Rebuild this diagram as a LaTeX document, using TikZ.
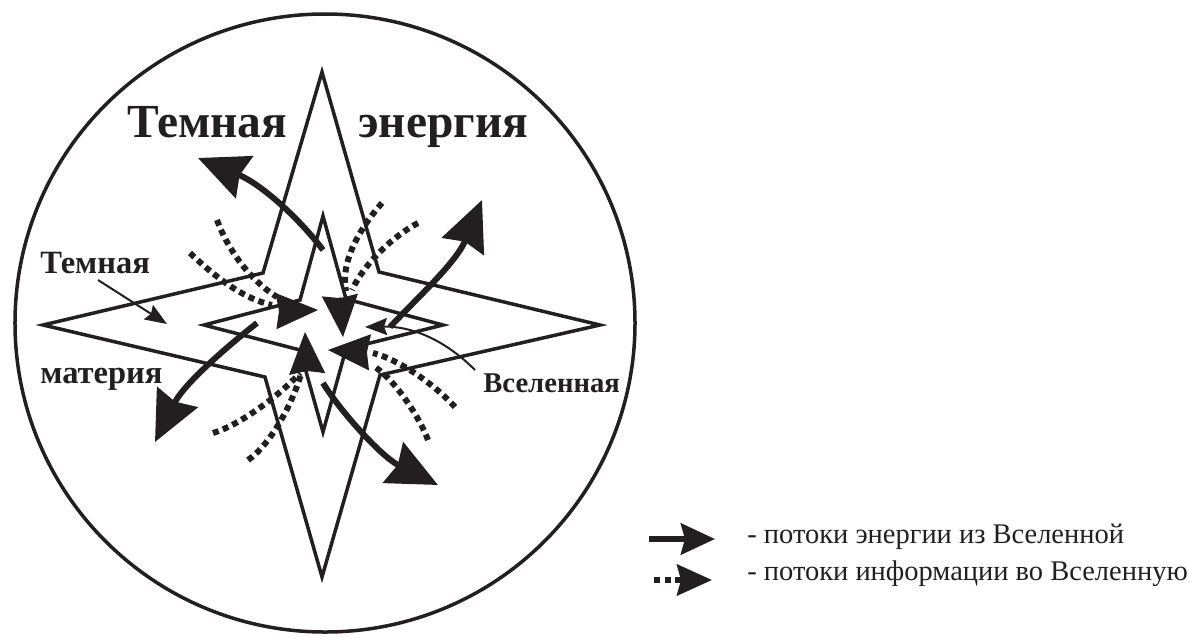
\documentclass[tikz,border=0pt]{standalone}
\usepackage{fontspec}
\setmainfont{Liberation Serif}
\usepackage{xcolor}
\usetikzlibrary{arrows.meta}
\definecolor{ink}{RGB}{35,31,32}

\begin{document}
\begin{tikzpicture}[x=0.2mm, y=-0.2mm,
  outline/.style={draw=ink, line width=0.7mm, line join=miter},
  flow/.style={draw=ink, line width=1.2mm, -{Stealth[length=10mm, width=9mm, inset=1mm]}},
  info/.style={draw=ink, line width=1.2mm, dash pattern=on 1.2mm off 0.9mm},
  inhead/.style={draw=ink, line width=0.2mm, -{Stealth[length=8.4mm, width=7.2mm, inset=0.6mm]}},
  pointer/.style={draw=ink, line width=0.4mm, -{Stealth[length=4.4mm, width=3.4mm, inset=0.6mm]}},
  bigtxt/.style={font=\bfseries\fontsize{27}{30}\selectfont, text=ink, inner sep=0pt},
  midtxt/.style={font=\bfseries\fontsize{18.5}{22}\selectfont, text=ink, inner sep=0pt},
  legtxt/.style={font=\fontsize{16.2}{19}\selectfont, text=ink, inner sep=0pt},
]
  \useasboundingbox (0,0) rectangle (1189,637);

  % circle and the two stars
  \coordinate (o) at (325,323);
  \draw[outline] (o) ellipse [x radius=62mm, y radius=61.8mm];
  \draw[outline] (322,72) -- (379,272) -- (600,325) -- (380,375) -- (322,577)
    -- (265,377) -- (43,325) -- (263,273) -- cycle;
  \draw[outline] (323,216) -- (346,299) -- (443,325) -- (346,349) -- (323,432)
    -- (300,350) -- (204,325) -- (300,300) -- cycle;

  % labels
  \node[bigtxt, anchor=base west] (dark)   at (127,137) {Темная};
  \node[bigtxt, anchor=base west] (energy) at (358,137) {энергия};
  \node[midtxt, anchor=base west] (dm1)    at (40,273)  {Темная};
  \node[midtxt, anchor=base west] (dm2)    at (40,383)  {материя};
  \node[midtxt, anchor=base west, font=\bfseries\fontsize{16.3}{20}\selectfont] (univ) at (483,392) {Вселенная};

  % pointers
  \coordinate (pd0) at (98,280);
  \coordinate (pd1) at (167,324);
  \draw[pointer] (pd0) -- (pd1);
  \coordinate (pu0) at (475,370);
  \coordinate (pu1) at (365,327);
  \draw[pointer] (pu0) .. controls (445,340) and (412,326) .. (pu1);

  % information flows into the Universe
  \coordinate (a1) at (217,220); \coordinate (a1e) at (277,297);
  \coordinate (a2) at (190,253); \coordinate (a2e) at (272,305);
  \coordinate (c1) at (382,203); \coordinate (c1e) at (346,291);
  \coordinate (c2) at (418,223); \coordinate (c2e) at (352,290);
  \coordinate (e1) at (213,433); \coordinate (e1e) at (300,373);
  \coordinate (e2) at (248,460); \coordinate (e2e) at (301,374);
  \coordinate (g1) at (455,407); \coordinate (g1e) at (373,353);
  \coordinate (g2) at (428,440); \coordinate (g2e) at (375,367);
  \draw[info] (a1) .. controls (228,250) and (250,280) .. (a1e);
  \draw[info] (a2) .. controls (210,272) and (240,298) .. (a2e);
  \draw[info] (c1) .. controls (360,228) and (340,262) .. (c1e);
  \draw[info] (c2) .. controls (395,235) and (365,262) .. (c2e);
  \draw[info] (e1) .. controls (240,425) and (280,395) .. (e1e);
  \draw[info] (e2) .. controls (270,445) and (292,405) .. (e2e);
  \draw[info] (g1) .. controls (435,385) and (400,360) .. (g1e);
  \draw[info] (g2) .. controls (420,418) and (395,380) .. (g2e);

  \coordinate (tUL) at (318,310); \coordinate (bUL) at (280,311);
  \coordinate (tUR) at (343,337); \coordinate (bUR) at (340,297);
  \coordinate (tLL) at (305,332); \coordinate (bLL) at (307,371);
  \coordinate (tLR) at (328,350); \coordinate (bLR) at (364,352);
  \draw[inhead] (bUL) -- (tUL);
  \draw[inhead] (bUR) -- (tUR);
  \draw[inhead] (bLL) -- (tLL);
  \draw[inhead] (bLR) -- (tLR);

  % energy flows from the Universe
  \coordinate (sUL) at (323,250); \coordinate (eUL) at (198,158);
  \coordinate (sUR) at (390,327); \coordinate (eUR) at (482,200);
  \coordinate (sLL) at (257,323); \coordinate (eLL) at (155,442);
  \coordinate (sLR) at (323,383); \coordinate (eLR) at (438,485);
  \draw[flow] (sUL) .. controls (299,218) and (261,184) .. (eUL);
  \draw[flow] (sUR) .. controls (415,300) and (456,263) .. (eUR);
  \draw[flow] (sLL) .. controls (234,341) and (185,382) .. (eLL);
  \draw[flow] (sLR) .. controls (338,408) and (380,456) .. (eLR);

  % legend
  \coordinate (l1a) at (649,539); \coordinate (l1b) at (715,539);
  \coordinate (l2a) at (654,580); \coordinate (l2b) at (712,580);
  \draw[flow, line width=1.2mm, -{Stealth[length=6.8mm, width=6.2mm, inset=0.8mm]}] (l1a) -- (l1b);
  \draw[info, line width=1.1mm, -{Stealth[length=7mm, width=6.2mm, inset=0.8mm]}] (l2a) -- (l2b);
  \node[legtxt, anchor=base west] (leg1) at (747,543) {- потоки энергии из Вселенной};
  \node[legtxt, anchor=base west] (leg2) at (747,580) {- потоки информации во Вселенную};
\end{tikzpicture}
\end{document}
